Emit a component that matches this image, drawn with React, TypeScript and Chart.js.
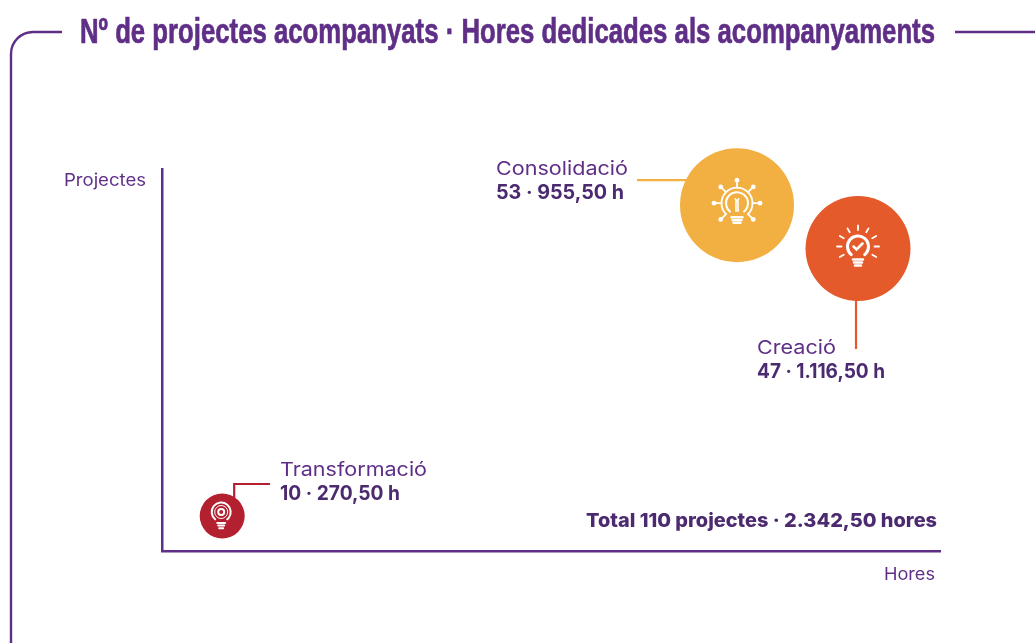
import React, { useEffect, useRef } from "react";
import { Chart, registerables } from "chart.js";

Chart.register(...registerables);

const categories = ["Consolidació", "Creació", "Transformació"];
const projects = [53, 47, 10];
const hours = [955.5, 1116.5, 270.5];
const valueLabels = ["53 · 955,50 h", "47 · 1.116,50 h", "10 · 270,50 h"];
const totalLabel = "Total 110 projectes · 2.342,50 hores";
const titleText = "Nº de projectes acompanyats · Hores dedicades als acompanyaments";
const yAxisLabel = "Projectes";
const xAxisLabel = "Hores";

const bubbleColors = ["#f2b042", "#e55a2b", "#b3202f"];
const bubbleRadii = [57, 52.5, 22.5];
const PURPLE = "#5f2f87";
const DARK = "#4c2a70";
const SANS = "Inter, 'Open Sans', sans-serif";

function fitText(
  ctx: CanvasRenderingContext2D,
  text: string,
  x: number,
  y: number,
  width: number,
  font: string,
  color: string,
  embolden = 0
) {
  ctx.save();
  ctx.font = font;
  ctx.fillStyle = color;
  ctx.strokeStyle = color;
  ctx.textAlign = "left";
  ctx.textBaseline = "alphabetic";
  const m = ctx.measureText(text).width;
  ctx.translate(x, y);
  ctx.scale(width / m, 1);
  if (embolden > 0) {
    ctx.lineWidth = embolden;
    ctx.lineJoin = "round";
    ctx.strokeText(text, 0, 0);
  }
  ctx.fillText(text, 0, 0);
  ctx.restore();
}

function bulbBase(ctx: CanvasRenderingContext2D, cx: number, top: number, w: number, n: number, gap: number) {
  for (let i = 0; i < n; i++) {
    const k = w - i * 2;
    ctx.beginPath();
    ctx.moveTo(cx - k / 2, top + i * gap);
    ctx.lineTo(cx + k / 2, top + i * gap);
    ctx.stroke();
  }
}

function iconNetwork(ctx: CanvasRenderingContext2D, cx: number, cy: number) {
  ctx.lineWidth = 2;
  ctx.beginPath();
  ctx.arc(cx, cy, 11, Math.PI * 0.72, Math.PI * 0.28 + Math.PI * 2);
  ctx.stroke();
  ctx.lineWidth = 1.8;
  ctx.beginPath();
  ctx.arc(cx, cy, 15.5, Math.PI * 0.75, Math.PI * 0.25 + Math.PI * 2);
  ctx.stroke();
  ctx.lineWidth = 2.4;
  bulbBase(ctx, cx, cy + 14, 11, 3, 2.8);
  ctx.lineWidth = 1.6;
  ctx.beginPath();
  ctx.moveTo(cx - 1, cy + 8);
  ctx.lineTo(cx - 1, cy - 1);
  ctx.arc(cx - 3, cy - 2.5, 2.2, 0, Math.PI * 1.7, true);
  ctx.moveTo(cx + 1, cy + 8);
  ctx.lineTo(cx + 1, cy - 1);
  ctx.arc(cx + 3, cy - 2.5, 2.2, Math.PI, Math.PI * 1.3);
  ctx.stroke();
  ctx.lineWidth = 1.8;
  [-90, -135, -45, 180, 0, 135, 45].forEach((a) => {
    const r = (a * Math.PI) / 180;
    const x1 = cx + Math.cos(r) * 15.5;
    const y1 = cy + Math.sin(r) * 15.5;
    const x2 = cx + Math.cos(r) * 23;
    const y2 = cy + Math.sin(r) * 23;
    ctx.beginPath();
    ctx.moveTo(x1, y1);
    ctx.lineTo(x2, y2);
    ctx.stroke();
    ctx.beginPath();
    ctx.arc(x2, y2, 2.4, 0, Math.PI * 2);
    ctx.fill();
  });
}

function iconCheck(ctx: CanvasRenderingContext2D, cx: number, cy: number) {
  ctx.lineWidth = 3;
  ctx.beginPath();
  ctx.arc(cx, cy, 10.5, Math.PI * 0.72, Math.PI * 0.28 + Math.PI * 2);
  ctx.stroke();
  ctx.lineWidth = 2.6;
  ctx.beginPath();
  ctx.moveTo(cx - 4.5, cy);
  ctx.lineTo(cx - 1.5, cy + 3);
  ctx.lineTo(cx + 4.5, cy - 3);
  ctx.stroke();
  ctx.lineWidth = 2.4;
  bulbBase(ctx, cx, cy + 13, 10, 3, 3);
  ctx.lineWidth = 1.8;
  [-90, -120, -60, -150, -30, 180, 0, 150, 30].forEach((a) => {
    const r = (a * Math.PI) / 180;
    ctx.beginPath();
    ctx.moveTo(cx + Math.cos(r) * 16.5, cy + Math.sin(r) * 16.5);
    ctx.lineTo(cx + Math.cos(r) * 21, cy + Math.sin(r) * 21);
    ctx.stroke();
  });
}

function iconGear(ctx: CanvasRenderingContext2D, cx: number, cy: number) {
  ctx.lineWidth = 2;
  ctx.beginPath();
  ctx.arc(cx, cy, 9.5, Math.PI * 0.72, Math.PI * 0.28 + Math.PI * 2);
  ctx.stroke();
  ctx.lineWidth = 1;
  ctx.beginPath();
  ctx.arc(cx, cy, 6.5, 0, Math.PI * 2);
  ctx.stroke();
  ctx.lineWidth = 2;
  ctx.beginPath();
  ctx.arc(cx, cy, 3, 0, Math.PI * 2);
  ctx.stroke();
  ctx.lineWidth = 2;
  bulbBase(ctx, cx, cy + 11, 8, 3, 2.6);
}

const overlay = {
  id: "overlay",
  afterDatasetsDraw(chart: any) {
    const ctx: CanvasRenderingContext2D = chart.ctx;
    const pts = chart.getDatasetMeta(0).data;
    const [a, b, c] = pts;

    // Frame around the title
    ctx.save();
    ctx.strokeStyle = PURPLE;
    ctx.lineWidth = 2.4;
    ctx.beginPath();
    ctx.moveTo(62, 32);
    ctx.lineTo(33, 32);
    ctx.arcTo(11, 32, 11, 54, 22);
    ctx.lineTo(11, 643);
    ctx.moveTo(955, 32);
    ctx.lineTo(1035, 32);
    ctx.stroke();

    // Leader lines
    ctx.lineWidth = 2.2;
    ctx.strokeStyle = bubbleColors[0];
    ctx.beginPath();
    ctx.moveTo(637, a.y - 25);
    ctx.lineTo(a.x - 50, a.y - 25);
    ctx.stroke();
    ctx.strokeStyle = bubbleColors[1];
    ctx.beginPath();
    ctx.moveTo(b.x - 2, b.y + 50);
    ctx.lineTo(b.x - 2, 349);
    ctx.stroke();
    ctx.strokeStyle = bubbleColors[2];
    ctx.beginPath();
    ctx.moveTo(270, 484);
    ctx.lineTo(c.x + 12, 484);
    ctx.lineTo(c.x + 12, c.y - 18);
    ctx.stroke();

    // Icons
    ctx.strokeStyle = "#ffffff";
    ctx.fillStyle = "#ffffff";
    ctx.lineCap = "round";
    iconNetwork(ctx, a.x, a.y - 2);
    iconCheck(ctx, b.x, b.y - 2);
    iconGear(ctx, c.x - 1, c.y - 4);
    ctx.restore();

    // Texts
    const light = "400 19px " + SANS;
    const bold = "700 20px " + SANS;
    fitText(ctx, titleText, 80, 43, 855, "700 35px 'Liberation Sans Narrow', 'Liberation Sans', sans-serif", PURPLE, 0.7);
    fitText(ctx, yAxisLabel, 64, 186, 82, "400 17px " + SANS, PURPLE);
    fitText(ctx, xAxisLabel, 884, 580, 51, "400 17px " + SANS, PURPLE);
    fitText(ctx, categories[0], 496, 175, 132, light, PURPLE);
    fitText(ctx, valueLabels[0], 496, 199, 128, bold, DARK);
    fitText(ctx, categories[1], 757, 354, 79, light, PURPLE);
    fitText(ctx, valueLabels[1], 757, 378, 128, bold, DARK);
    fitText(ctx, categories[2], 280, 476, 147, light, PURPLE);
    fitText(ctx, valueLabels[2], 280, 500, 120, bold, DARK);
    fitText(ctx, totalLabel, 586, 527, 351, "800 19px " + SANS, DARK);
  },
};

export default function App() {
  const ref = useRef<HTMLCanvasElement>(null);
  useEffect(() => {
    const chart = new Chart(ref.current!, {
      type: "scatter",
      data: {
        labels: categories,
        datasets: [
          {
            label: "Projectes",
            data: hours.map((h, i) => ({ x: h, y: projects[i] })),
            backgroundColor: bubbleColors,
            borderWidth: 0,
            pointRadius: bubbleRadii,
            pointHoverRadius: bubbleRadii,
            clip: false,
          },
        ],
      },
      options: {
        animation: false,
        responsive: false,
        layout: { padding: { left: 162, top: 169, right: 95, bottom: 92 } },
        plugins: { legend: { display: false }, title: { display: false }, tooltip: { enabled: false } },
        scales: {
          x: {
            type: "linear",
            min: 190.4,
            max: 1225.6,
            grid: { display: false, drawTicks: false },
            border: { display: true, color: PURPLE, width: 2.5 },
            ticks: { display: false },
          },
          y: {
            type: "linear",
            min: 5.16,
            max: 58,
            grid: { display: false, drawTicks: false },
            border: { display: true, color: PURPLE, width: 2.5 },
            ticks: { display: false },
          },
        },
      },
      plugins: [overlay],
    });
    return () => chart.destroy();
  }, []);
  return (
    <div style={{ position: "absolute", left: 0, top: 0, width: 1035, height: 643, background: "#fff" }}>
      <canvas ref={ref} width={1035} height={643} style={{ display: "block" }} />
    </div>
  );
}
